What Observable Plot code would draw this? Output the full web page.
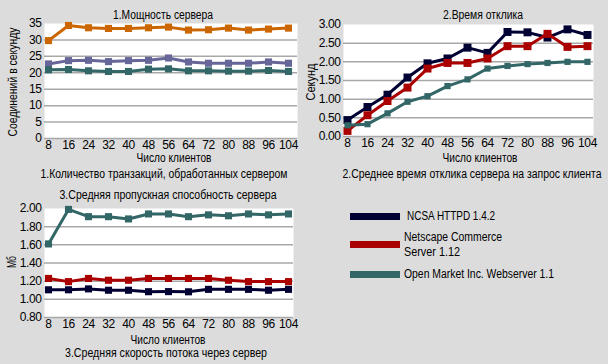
<!DOCTYPE html>
<html><head><meta charset="utf-8">
<script src="https://cdn.jsdelivr.net/npm/d3@7"></script>
<script src="https://cdn.jsdelivr.net/npm/@observablehq/plot@0.6"></script>
<style>
html,body{margin:0;padding:0}
body{background:#dcdcdc;width:608px;height:364px;overflow:hidden;position:relative;font-family:"Liberation Sans",Arial,sans-serif;font-size:12px;color:#000}
.t,.l{position:absolute;white-space:nowrap;line-height:1}
.chart{position:absolute}
.chart text{letter-spacing:-0.4px}
.sw{position:absolute;width:50px;height:7px}
</style>
</head><body>
<div id="root"></div>
<script>
// ---- data ----
const clients = [8,16,24,32,40,48,56,64,72,80,88,96,104];

// Panel 1: transactions per second
const p1Orange = [29.8,34.4,33.7,33.5,33.5,33.7,33.9,33.0,33.1,33.6,33.0,33.3,33.6];
const p1Purple = [22.7,23.7,23.8,23.4,23.7,23.8,24.5,23.3,22.9,22.9,22.9,23.3,22.9];
const p1Teal   = [20.9,21.0,20.6,20.4,20.4,21.1,21.2,20.6,20.6,20.5,20.5,20.7,20.4];

// Panel 2: response time, seconds
const p2NCSA     = [0.44,0.79,1.12,1.58,1.96,2.09,2.38,2.24,2.80,2.79,2.65,2.87,2.72];
const p2Netscape = [0.15,0.57,0.95,1.31,1.82,1.97,1.97,2.09,2.42,2.42,2.75,2.40,2.42];
const p2OpenMkt  = [0.30,0.33,0.62,0.93,1.08,1.35,1.53,1.82,1.89,1.94,1.97,2.00,2.00];

// Panel 3: throughput, MB
const p3NCSA     = [1.105,1.105,1.115,1.10,1.10,1.084,1.085,1.083,1.11,1.11,1.11,1.10,1.11];
const p3Netscape = [1.23,1.195,1.23,1.21,1.21,1.23,1.23,1.23,1.23,1.21,1.195,1.195,1.195];
const p3OpenMkt  = [1.61,1.99,1.91,1.91,1.885,1.94,1.94,1.91,1.93,1.92,1.94,1.93,1.94];

const yTicks1 = [0,5,10,15,20,25,30,35];
const yTicks2 = [0,0.5,1,1.5,2,2.5,3];
const yTicks3 = [0.8,1.0,1.2,1.4,1.6,1.8,2.0];

const legendNames = ["NCSA HTTPD 1.4.2", "Netscape Commerce\nServer 1.12", "Open Market Inc. Webserver 1.1"];

const C = {navy:"#000033", red:"#aa0000", teal:"#336666", orange:"#cc6600", purple:"#666699"};
const FONT = '"Liberation Sans",Arial,sans-serif';

function longData(seriesList){
  const out = [];
  for (const s of seriesList) s.values.forEach((v,i)=>out.push({x:clients[i], y:v, color:s.color}));
  return out;
}

function panel({series, yDomain, yTicks, fmt, width, height, ml, mr, mt, mb, ir}){
  const data = longData(series);
  const marks = [
    Plot.frame({fill:"white", stroke:null}),
    Plot.ruleY(yTicks.slice(0,-1), {stroke:"#a8a8a8", strokeWidth:1.5}),
    Plot.axisY({ticks:yTicks, tickSize:0, tickPadding:3, tickFormat:fmt}),
    Plot.axisX({tickSize:0, tickPadding:2})
  ];
  for (const s of series){
    const d = data.filter(e=>e.color===s.color);
    marks.push(Plot.line(d, {x:"x", y:"y", stroke:s.color, strokeWidth:3}));
    marks.push(Plot.dot(d, {x:"x", y:"y", symbol:"square", fill:s.color, r:s.r}));
  }
  return Plot.plot({
    width, height, marginLeft:ml, marginRight:mr, marginTop:mt, marginBottom:mb,
    insetRight:ir,
    style:{background:"none", fontFamily:FONT, fontSize:"12px", color:"#000", overflow:"visible"},
    x:{type:"point", domain:clients, padding:0, label:null},
    y:{domain:yDomain, label:null},
    marks
  });
}

const root = document.getElementById("root");
function place(el, left, top){ el.classList.add("chart"); el.style.left=left+"px"; el.style.top=top+"px"; root.appendChild(el); }
// text centred at (x,y), squeezed horizontally to a target width like the narrow original font
function text(s, x, y, w, rot){
  const d=document.createElement("div"); d.className="t"; d.textContent=s; root.appendChild(d);
  const nat = d.getBoundingClientRect().width;
  const k = Math.min(1, w/nat);
  d.style.left=x+"px"; d.style.top=y+"px";
  d.style.transform = "translate(-50%,-50%)" + (rot?" rotate(-90deg)":"") + " scaleX("+k+")";
  return d;
}
function ltext(s, x, y, w){
  const d=document.createElement("div"); d.className="l"; d.textContent=s; root.appendChild(d);
  const nat = d.getBoundingClientRect().width;
  const k = Math.min(1, w/nat);
  d.style.left=x+"px"; d.style.top=y+"px";
  d.style.transformOrigin="0 50%";
  d.style.transform="translateY(-50%) scaleX("+k+")";
}

// Panel 1
place(panel({
  series:[{values:p1Orange,color:C.orange,r:4},{values:p1Purple,color:C.purple,r:4},{values:p1Teal,color:C.teal,r:4}],
  yDomain:[0,35], yTicks:yTicks1, fmt:d3.format("d"),
  width:304, height:152, ml:44, mr:7, mt:23, mb:14, ir:5
}), 0, 0);
text("1.Мощность сервера",163,15,100);
text("Число клиентов",174,158,75);
text("1.Количество транзакций, обработанных сервером",164,174,247);
text("Соединений в секунду",13,82,109,true);

// Panel 2
place(panel({
  series:[{values:p2NCSA,color:C.navy,r:4.5},{values:p2Netscape,color:C.red,r:4.5},{values:p2OpenMkt,color:C.teal,r:3.5}],
  yDomain:[0,3], yTicks:yTicks2, fmt:d3.format(".2f"),
  width:308, height:150, ml:43, mr:15, mt:24, mb:14, ir:2
}), 300, 0);
text("2.Время отклика",483,15,80);
text("Число клиентов",480,158,75);
text("2.Среднее время отклика сервера на запрос клиента",472,174,259);
text("Секунд",311,82,37,true);

// Panel 3
place(panel({
  series:[{values:p3OpenMkt,color:C.teal,r:4},{values:p3Netscape,color:C.red,r:4},{values:p3NCSA,color:C.navy,r:4}],
  yDomain:[0.8,2.0], yTicks:yTicks3, fmt:d3.format(".2f"),
  width:304, height:151, ml:44, mr:11, mt:28, mb:14, ir:1
}), 0, 180);
text("3.Средняя пропускная способность сервера",168,195,217);
text("Число клиентов",168,340,75);
text("3.Средняя скорость потока через сервер",166,353,202);
text("Мб",12,262,12,true);

// Legend
const legColors = [C.navy, C.red, C.teal];
const legY = [216, 244, 274];
const legW = [[88],[98,56],[150]];
legendNames.forEach((n,i)=>{
  const sw=document.createElement("div"); sw.className="sw"; sw.style.background=legColors[i];
  sw.style.left="350px"; sw.style.top=(legY[i]-3.5)+"px"; root.appendChild(sw);
  const lines = n.split("\n");
  lines.forEach((ln,j)=>{
    ltext(ln, i===0?407:404, legY[i] + (j - (lines.length-1)/2)*15, legW[i][j]);
  });
});
</script>
</body></html>
